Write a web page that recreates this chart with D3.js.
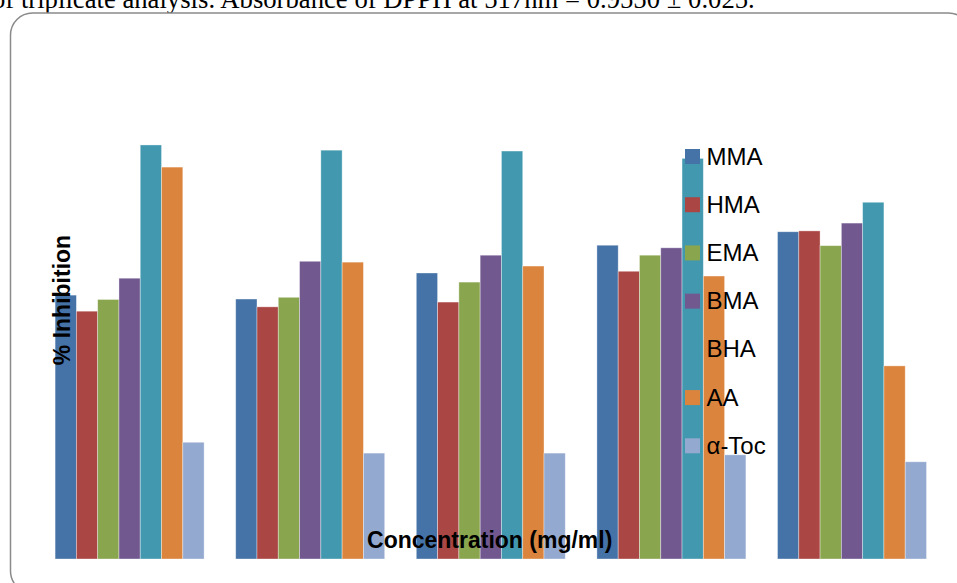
<!DOCTYPE html>
<html>
<head>
<meta charset="utf-8">
<script src="https://cdn.jsdelivr.net/npm/d3@7/dist/d3.min.js"></script>
<style>
  html, body { margin: 0; padding: 0; background: #fff; overflow: hidden; }
  svg { display: block; }
</style>
</head>
<body>
<svg id="chart" width="957" height="583"></svg>
<script>
// ---- data ----
const categories = ["C1", "C2", "C3", "C4", "C5"];
const seriesNames = ["MMA", "HMA", "EMA", "BMA", "BHA", "AA", "α-Toc"];
const seriesColors = ["#4572A7", "#AA4643", "#89A54E", "#71588F", "#4198AF", "#DB843D", "#93A9CF"];
const MMA   = [60.8, 59.9, 65.9, 72.3, 75.4];
const HMA   = [57.1, 58.1, 59.2, 66.3, 75.6];
const EMA   = [59.8, 60.3, 63.8, 70.0, 72.2];
const BMA   = [64.7, 68.6, 70.0, 71.7, 77.4];
const BHA   = [95.4, 94.2, 94.0, 92.3, 82.2];
const AA    = [90.3, 68.4, 67.5, 65.2, 44.5];
const aToc  = [26.9, 24.4, 24.4, 24.0, 22.4];
const seriesValues = [MMA, HMA, EMA, BMA, BHA, AA, aToc];
const captionText = "of triplicate analysis. Absorbance of DPPH at 517nm = 0.9550 ± 0.025.";
const yTitle = "% Inhibition";
const xTitle = "Concentration (mg/ml)";

const svg = d3.select("#chart");

// caption cut off at top (as in the reference)
svg.append("text")
  .attr("x", -8).attr("y", 8)
  .attr("font-family", "'Liberation Serif', 'Times New Roman', serif")
  .attr("font-size", 26.7)
  .attr("fill", "#000")
  .text(captionText);

// rounded chart border
svg.append("rect")
  .attr("x", 10.5).attr("y", 13)
  .attr("width", 960).attr("height", 580)
  .attr("rx", 22).attr("ry", 22)
  .attr("fill", "#fff")
  .attr("stroke", "#8a8a8a").attr("stroke-width", 1.5);

// scales
const x0 = d3.scaleBand().domain(categories).range([39.3, 942.3])
  .paddingInner(0.175).paddingOuter(0.0875);
const x1 = d3.scaleBand().domain(seriesNames).range([0, x0.bandwidth()]).padding(0);
const y = d3.scaleLinear().domain([0, 100]).range([559, 125]);

const rows = [];
categories.forEach((c, ci) => {
  seriesNames.forEach((s, si) => {
    rows.push({ c, s, si, v: seriesValues[si][ci] });
  });
});

svg.append("g").selectAll("rect").data(rows).join("rect")
  .attr("x", d => x0(d.c) + x1(d.s))
  .attr("y", d => y(d.v))
  .attr("width", x1.bandwidth())
  .attr("height", d => y(0) - y(d.v))
  .attr("fill", d => seriesColors[d.si])
  .attr("stroke", "rgba(255,255,255,0.45)")
  .attr("stroke-width", 0.8);

// axis titles
svg.append("text")
  .attr("transform", "translate(69.5,300) rotate(-90)")
  .attr("text-anchor", "middle")
  .attr("font-family", "'Liberation Sans', Arial, sans-serif")
  .attr("font-weight", "bold")
  .attr("font-size", 23)
  .attr("fill", "#000")
  .text(yTitle);

svg.append("text")
  .attr("x", 489.7).attr("y", 548)
  .attr("text-anchor", "middle")
  .attr("font-family", "'Liberation Sans', Arial, sans-serif")
  .attr("font-weight", "bold")
  .attr("font-size", 23)
  .attr("fill", "#000")
  .text(xTitle);

// legend
const legY = d3.scalePoint().domain(seriesNames).range([149, 438.3]);
const leg = svg.append("g").selectAll("g").data(seriesNames).join("g")
  .attr("transform", d => `translate(685,${legY(d)})`);
leg.append("rect")
  .attr("width", 15).attr("height", 15)
  .attr("fill", (d, i) => seriesColors[i]);
leg.append("text")
  .attr("x", 21.5).attr("y", 15.5)
  .attr("font-family", "'Liberation Sans', Arial, sans-serif")
  .attr("font-size", 24)
  .attr("fill", "#000")
  .text(d => d);
</script>
</body>
</html>
